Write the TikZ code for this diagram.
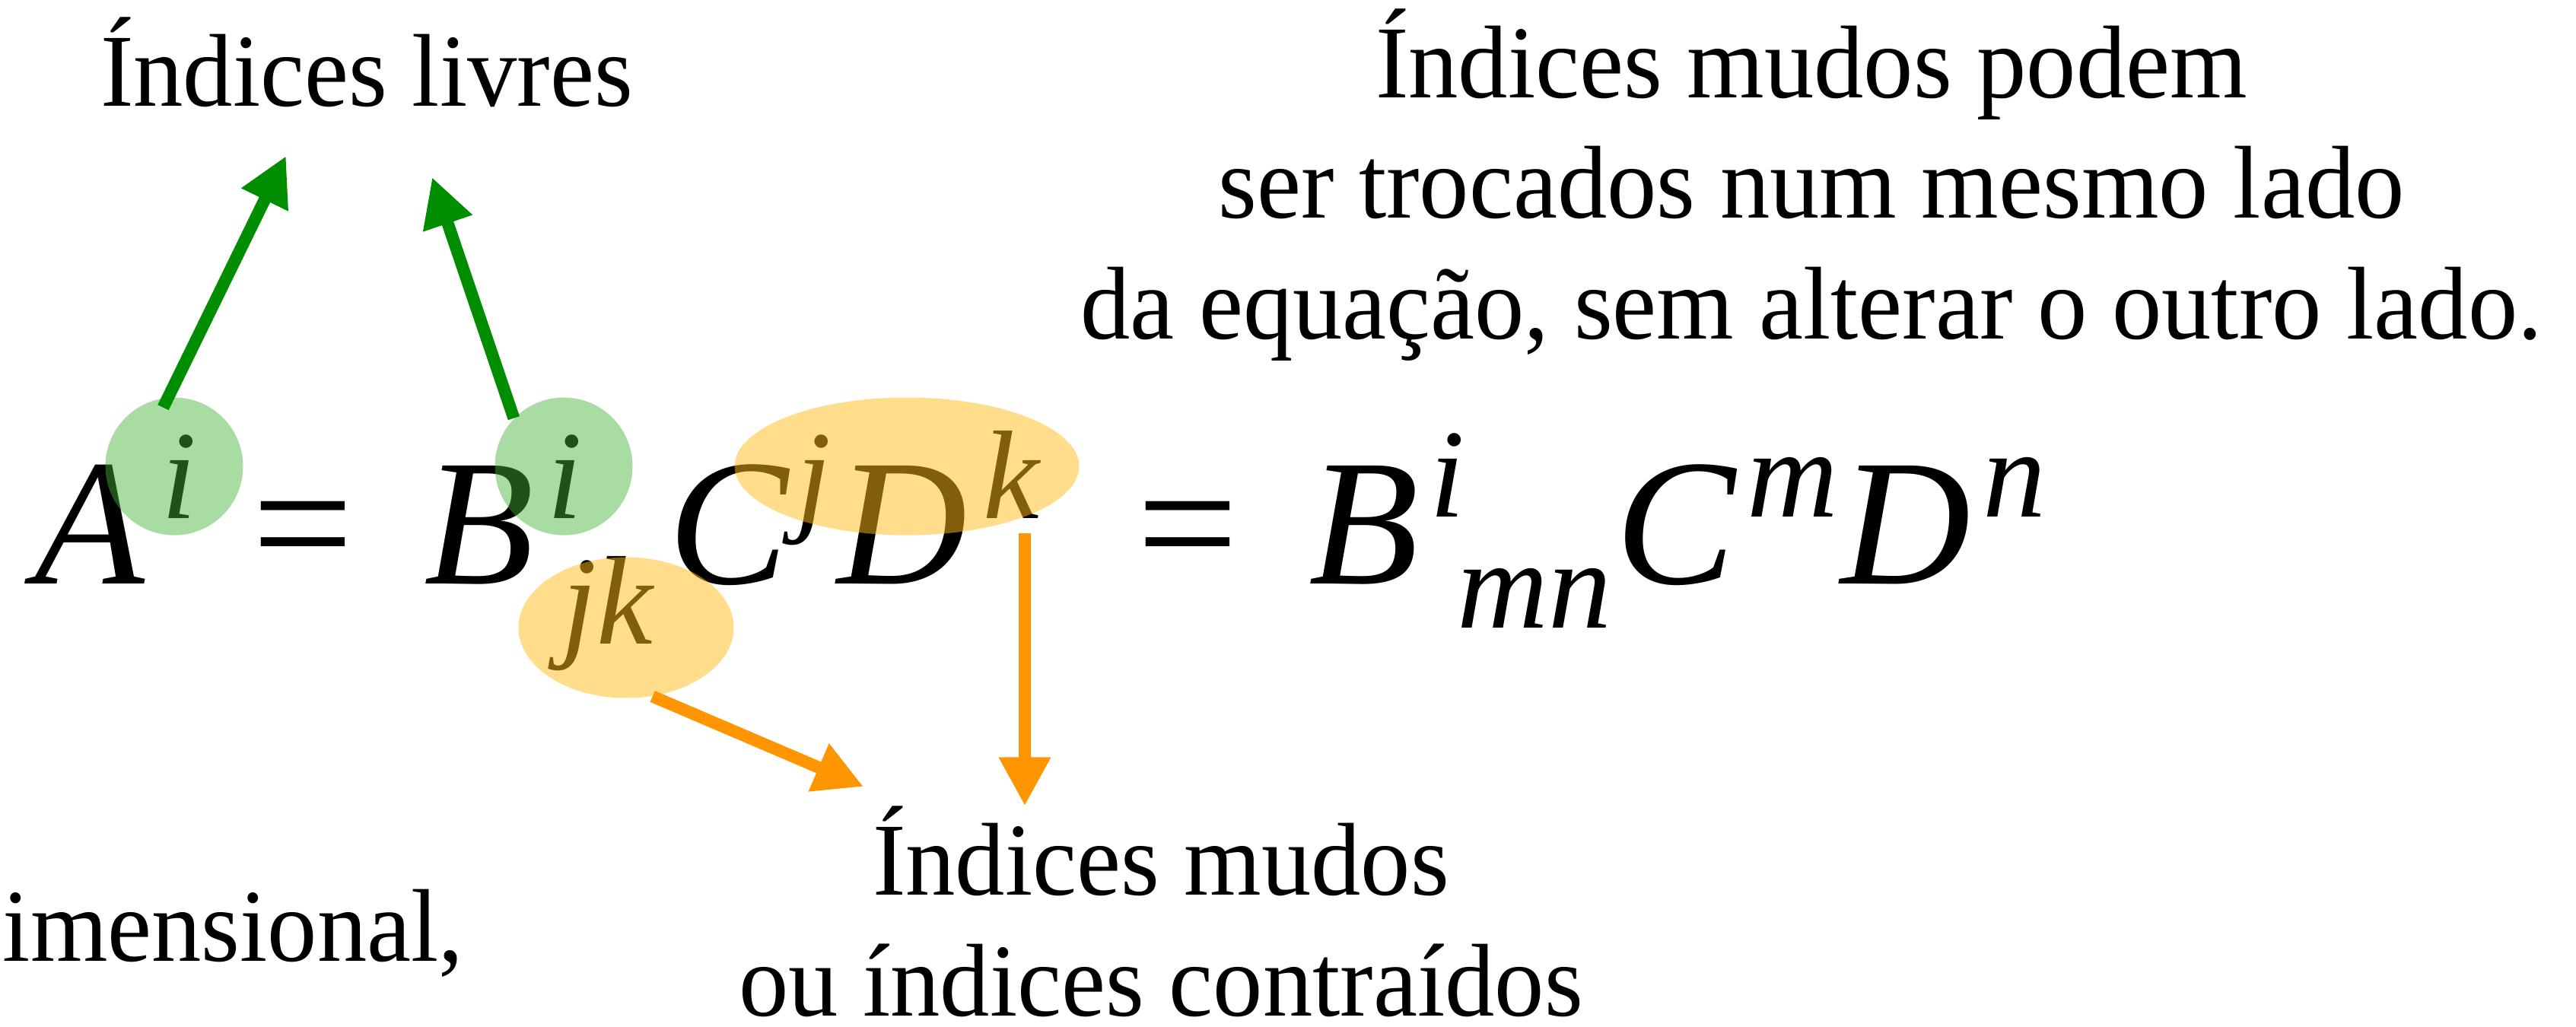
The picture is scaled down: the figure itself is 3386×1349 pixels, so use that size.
\documentclass[tikz,border=0pt]{standalone}
\usepackage{fontspec}
\setmainfont{Liberation Serif}[FakeStretch=0.96]
\newfontfamily\eqfont{Liberation Serif}
\usetikzlibrary{arrows.meta,shapes.geometric}

\definecolor{livregreen}{RGB}{0,142,0}
\definecolor{livrefill}{RGB}{67,179,54}
\definecolor{mudoorange}{RGB}{255,149,0}
\definecolor{mudofill}{RGB}{255,188,24}
\newcommand{\eqbig}{\eqfont\itshape\fontsize{67.4}{70}\selectfont}
\newcommand{\eqsmall}{\eqfont\itshape\fontsize{47.2}{50}\selectfont}

\begin{document}
\begin{tikzpicture}[x=0.1mm,y=-0.1mm,
	textlabel/.style={font=\fontsize{38.7}{45}\selectfont, inner sep=0, align=center},
	bigsym/.style={anchor=base west, inner sep=0, font=\eqbig},
	supsym/.style={anchor=base west, inner sep=0, font=\eqsmall},
	eqsym/.style={anchor=base west, inner sep=0, font=\eqfont\fontsize{67.4}{70}\selectfont},
	freemark/.style={circle, fill=livrefill, fill opacity=0.46, minimum size=18.1mm, inner sep=0},
	dummymark/.style={ellipse, fill=mudofill, fill opacity=0.5, inner sep=0},
	freearrow/.style={livregreen, line width=1.6mm, -{Triangle[length=6.4mm,width=6.4mm]}},
	dummyarrow/.style={mudoorange, line width=1.6mm, -{Triangle[length=6.4mm,width=6.4mm]}}]
	\useasboundingbox (0,0) rectangle (3386,1349);
%
	\node[bigsym] (A) at (45,767) {A};
	\node[supsym] (Ai) at (212,681) {i};
	\node[eqsym] (eqa) at (331,767) {=};
	\node[bigsym] (Ba) at (557,767) {B};
	\node[supsym] (Bai) at (719,681) {i};
	\node[supsym] (Bajk) at (738,846) {jk};
	\node[bigsym] (Ca) at (878,767) {C};
	\node[supsym] (Caj) at (1046,681) {j};
	\node[bigsym] (Da) at (1100,767) {D};
	\node[supsym] (Dak) at (1292,681) {k};
	\node[eqsym] (eqb) at (1494,767) {=};
	\node[bigsym] (Bb) at (1720,767) {B};
	\node[supsym] (Bbi) at (1879,679) {i};
	\node[supsym] (Bbmn) at (1915,825) {mn};
	\node[bigsym] (Cb) at (2123,767) {C};
	\node[supsym] (Cbm) at (2296,679) {m};
	\node[bigsym] (Db) at (2419,767) {D};
	\node[supsym] (Dbn) at (2606,679) {n};
%
	\node[freemark] (freeA) at (229,613) {};
	\node[freemark] (freeB) at (741,613) {};
	\node[dummymark, minimum width=45.3mm, minimum height=18.1mm] (dummyCD) at (1192,613) {};
	\node[dummymark, minimum width=28.3mm, minimum height=18.5mm] (dummyjk) at (823,825) {};
%
	% multi-line labels sit on the baseline of their last line
	\node[textlabel, anchor=base] (livres) at (482,139) {Índices livres};
	\node[textlabel, anchor=base] (trocar) at (2381,445) {Índices mudos podem\\ser trocados num mesmo lado\\da equação, sem alterar o outro lado.};
	\node[textlabel, anchor=base, text depth=0pt] (mudos) at (1526,1335) {Índices mudos\\ou índices contraídos};
	\node[textlabel, anchor=base west] (cortado) at (3,1263) {imensional,};
%
	\coordinate (tipA) at (376,205);
	\coordinate (tipB) at (568,233);
	\coordinate (tipjk) at (1135,1034);
	\coordinate (kfoot) at (1347,701);
	\draw[freearrow, shorten <=-1.5mm] (freeA.95) -- (tipA);
	\draw[freearrow] (freeB.136) -- (tipB);
	\draw[dummyarrow] (dummyjk.-69) -- (tipjk);
	\draw[dummyarrow] (kfoot) -- (kfoot |- mudos.north);
%
\end{tikzpicture}
\end{document}
